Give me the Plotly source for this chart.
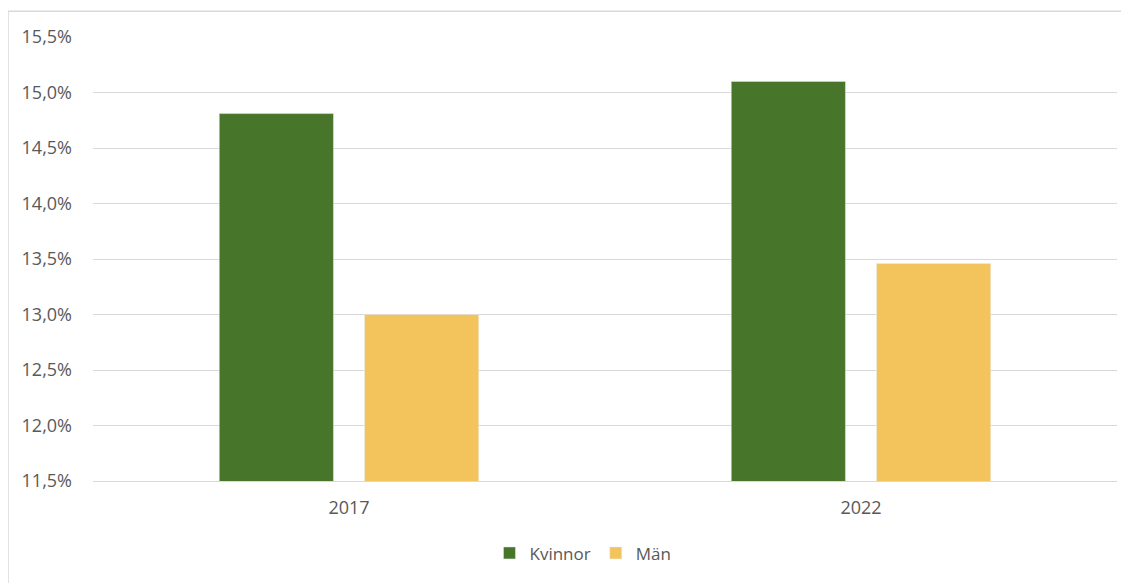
import plotly.graph_objects as go

years = ["2017", "2022"]
kvinnor = [0.1481, 0.1510]
man = [0.1300, 0.1346]
y_ticks = [0.115, 0.12, 0.125, 0.13, 0.135, 0.14, 0.145, 0.15, 0.155]

font = "Open Sans, Liberation Sans, sans-serif"

fig = go.Figure()
fig.add_trace(go.Bar(x=years, y=kvinnor, name="Kvinnor", marker_color="#47762a"))
fig.add_trace(go.Bar(x=years, y=man, name="Män", marker_color="#f4c45c"))

fig.update_layout(
    width=1121,
    height=575,
    margin=dict(l=85, r=12, t=29, b=94),
    barmode="group",
    bargap=0.4325,
    bargroupgap=0.214,
    separators=", ",
    plot_bgcolor="white",
    paper_bgcolor="white",
    font=dict(family=font, size=18, color="#595959"),
    legend=dict(orientation="h", x=0.4785, xanchor="center", y=-0.163, yanchor="middle",
                font=dict(size=17, color="#595959"), itemwidth=30, traceorder="normal"),
    xaxis=dict(showgrid=False, showline=True, linecolor="#d9d9d9", linewidth=1,
               ticks="", ticklabelstandoff=10, tickfont=dict(size=18)),
    yaxis=dict(range=[0.115, 0.155], tickvals=y_ticks, tickformat=".1%",
               showgrid=True, gridcolor="#d9d9d9", gridwidth=1, zeroline=False,
               ticks="", ticklabelstandoff=20, tickfont=dict(size=18)),
    shapes=[
        dict(type="line", xref="paper", yref="paper", x0=-0.083, x1=1.02, y0=1.058, y1=1.058,
             line=dict(color="#d9d9d9", width=1.5)),
        dict(type="line", xref="paper", yref="paper", x0=-0.083, x1=-0.083, y0=1.058, y1=-0.3,
             line=dict(color="#d9d9d9", width=1.5)),
    ],
)

fig.write_html("out.html")
